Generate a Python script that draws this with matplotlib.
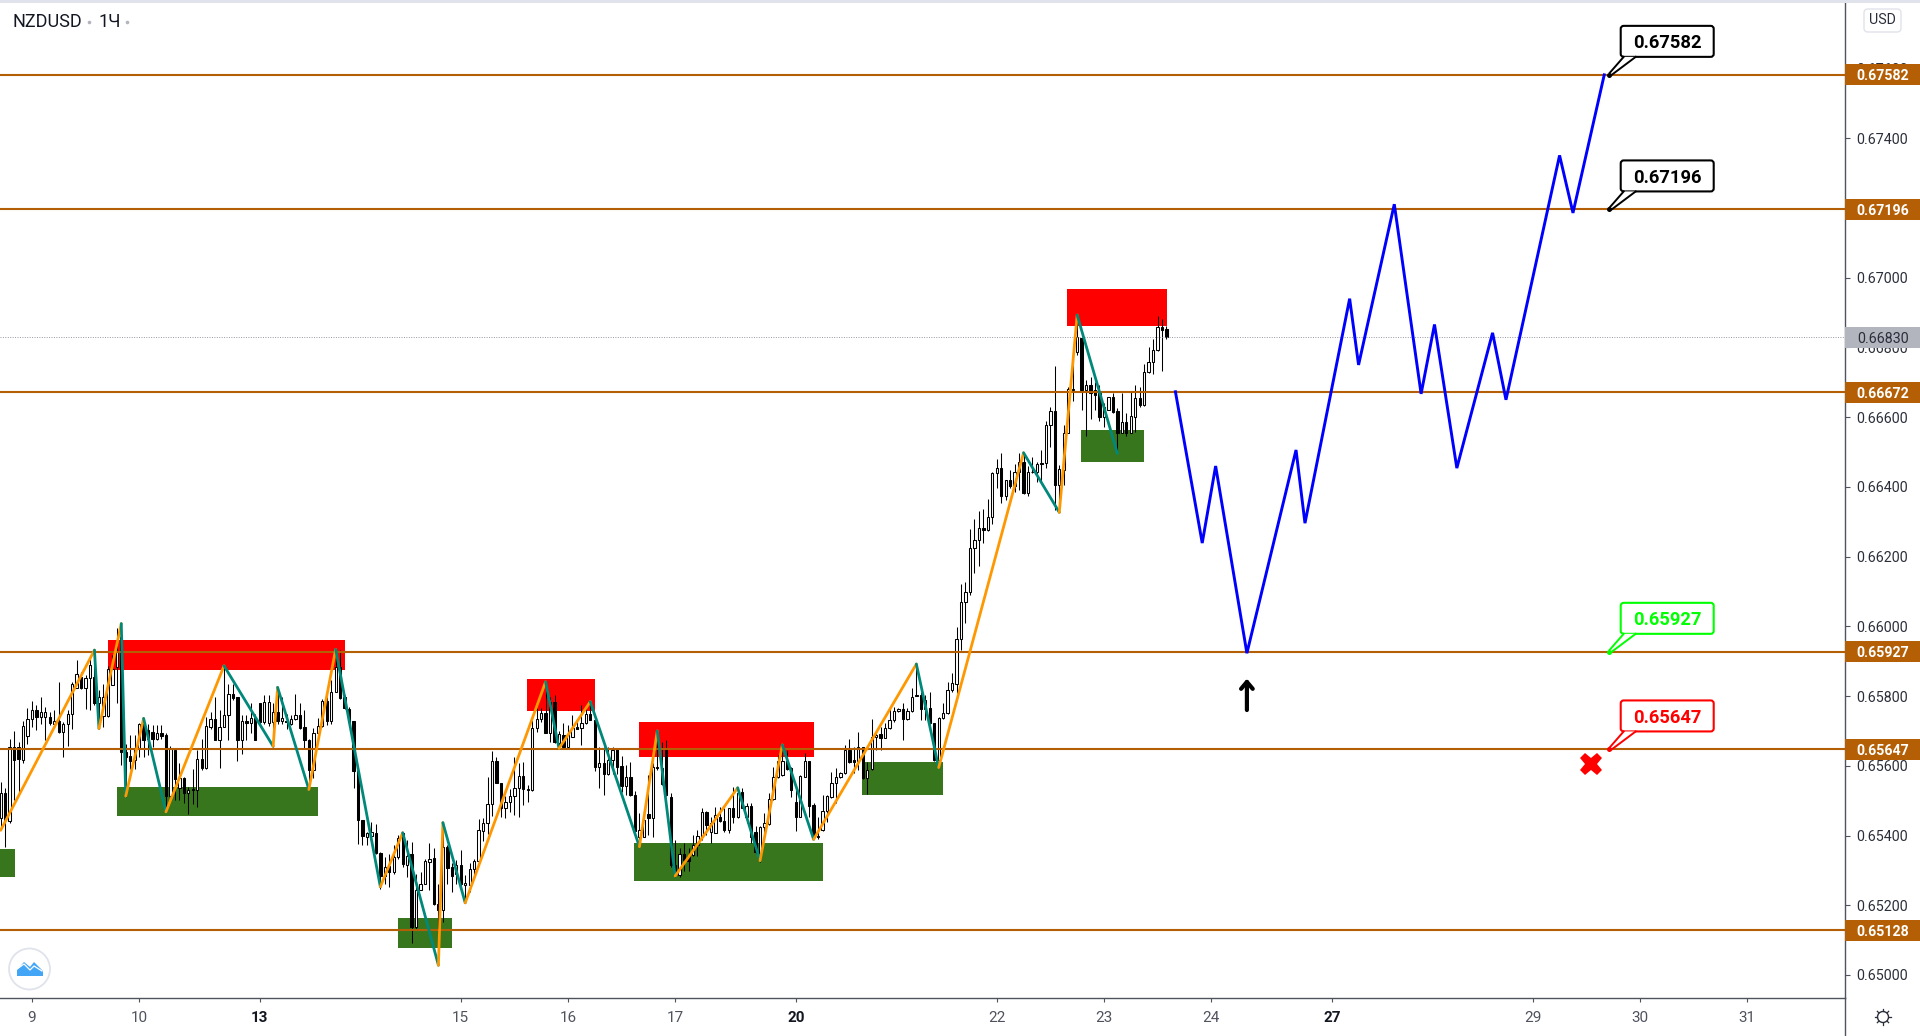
import matplotlib
matplotlib.use("Agg")
import matplotlib.pyplot as plt
from matplotlib.patches import Rectangle, FancyBboxPatch, Circle, Polygon
import numpy as np

# prices are in points (1e-5)
opens = [65449,65522,65442,65654,65654,65618,65685,65733,65761,65740,
65740,65739,65721,65729,65697,65721,65750,65822,65855,65822,
65853,65855,65779,65743,65743,65833,65884,65970,65640,65628,
65616,65652,65721,65702,65697,65678,65693,65688,65513,65645,
65535,65565,65522,65534,65532,65619,65594,65712,65733,65673,
65712,65745,65807,65798,65673,65728,65724,65736,65779,65726,
65724,65726,65755,65729,65729,65721,65733,65747,65710,65675,
65587,65695,65714,65785,65729,65812,65884,65798,65764,65728,
65586,65446,65396,65398,65406,65351,65283,65312,65294,65339,
65406,65315,65348,65138,65245,65262,65325,65337,65205,65186,
65368,65310,65291,65315,65258,65258,65305,65326,
65414,65435,65491,65615,65552,65480,65495,65512,65536,65571,
65534,65531,65708,65733,65751,65695,65782,65665,65689,65653,
65682,65711,65708,65722,65749,65732,65598,65607,65576,65617,
65648,65600,65543,65567,65516,65397,65397,65462,65449,65596,
65593,65646,65510,65316,65287,65346,65340,65344,65373,65397,
65467,65411,65408,65454,65443,65416,65478,65454,65524,65454,
65486,65411,65349,65424,65433,65504,65567,65573,65614,65593,
65495,65454,65569,65615,65488,65399,65416,65469,65510,65550,
65567,65579,65646,65617,65615,65655,65564,65590,65684,65690,
65679,65708,65732,65757,65762,65733,65757,65803,65803,65762,
65765,65722,65617,65736,65751,65818,65835,
65963,66069,66100,66226,66247,66281,66277,66315,66440,66454,
66375,66419,66403,66442,66472,66383,66444,66442,66468,66468,
66577,66618,66405,66448,66556,66678,66788,66826,66678,66692,
66678,66668,66601,66621,66657,66618,66556,66585,66556,66601,
66654,66635,66729,66757,66793,66860,66853]
closes = [65521,65444,65654,65618,65620,65714,65733,65761,65740,65753,
65755,65723,65729,65696,65721,65750,65836,65862,65822,65852,
65890,65779,65798,65798,65879,65879,65927,65640,65626,65614,
65652,65721,65673,65678,65677,65693,65686,65513,65648,65561,
65564,65522,65532,65530,65619,65594,65714,65733,65673,65712,
65745,65807,65795,65673,65729,65723,65736,65673,65726,65782,
65782,65755,65729,65738,65726,65733,65747,65709,65675,65587,
65695,65714,65785,65729,65812,65884,65795,65766,65726,65586,
65446,65398,65406,65409,65351,65283,65310,65296,65339,65394,
65317,65341,65138,65245,65262,65326,65334,65205,65186,65368,
65308,65284,65315,65262,65265,65305,65326,65415,
65435,65491,65615,65552,65480,65495,65514,65536,65571,65533,
65531,65708,65733,65751,65695,65782,65667,65690,65655,65691,
65708,65707,65724,65749,65732,65598,65607,65576,65617,65644,
65598,65543,65567,65516,65414,65416,65445,65449,65598,65593,
65548,65516,65316,65287,65346,65330,65328,65373,65399,65467,
65429,65435,65459,65443,65416,65478,65454,65523,65478,65486,
65397,65354,65424,65435,65504,65567,65614,65614,65590,65531,
65454,65571,65614,65486,65397,65395,65469,65512,65550,65567,
65579,65646,65612,65612,65655,65564,65588,65684,65689,65679,
65708,65732,65757,65762,65733,65757,65798,65800,65762,65789,
65722,65617,65736,65751,65818,65837,65963,
66069,66100,66226,66247,66281,66277,66315,66440,66454,66375,
66419,66403,66442,66472,66383,66444,66442,66467,66466,66577,
66618,66405,66450,66556,66680,66682,66831,66678,66692,66668,
66664,66601,66630,66657,66616,66556,66585,66556,66603,66654,
66635,66729,66757,66793,66858,66850,66831]
highs = [65554,65535,65678,65699,65669,65728,65767,65785,65774,65796,
65769,65755,65760,65841,65726,65760,65841,65903,65869,65860,
65908,65932,65817,65836,65885,65917,65994,66008,65664,65688,
65688,65723,65736,65719,65716,65716,65716,65693,65657,65645,
65607,65568,65540,65590,65645,65678,65740,65755,65798,65760,
65887,65836,65836,65798,65745,65745,65779,65750,65779,65803,
65803,65779,65825,65798,65750,65745,65805,65779,65760,65678,
65709,65736,65793,65798,65846,65932,65932,65803,65769,65728,
65587,65446,65411,65439,65434,65353,65339,65348,65372,65401,
65411,65387,65382,65291,65294,65334,65379,65363,65262,65438,
65372,65320,65329,65358,65286,65320,65334,65447,
65450,65569,65643,65624,65552,65512,65534,65626,65607,65612,
65545,65732,65765,65765,65841,65798,65803,65701,65722,65717,
65746,65727,65775,65775,65784,65732,65655,65655,65655,65655,
65648,65628,65602,65610,65529,65464,65459,65574,65607,65700,
65669,65674,65523,65387,65363,65378,65363,65402,65416,65480,
65471,65454,65483,65483,65478,65480,65540,65538,65536,65493,
65493,65426,65426,65464,65521,65598,65631,65655,65646,65598,
65531,65574,65636,65615,65493,65454,65516,65516,65583,65593,
65583,65660,65676,65655,65698,65655,65612,65733,65693,65712,
65722,65765,65770,65765,65779,65765,65822,65892,65813,65803,
65813,65722,65739,65779,65841,65865,65999,
66121,66128,66279,66308,66331,66336,66365,66443,66480,66496,
66420,66448,66467,66496,66498,66460,66485,66472,66506,66589,
66628,66747,66463,66577,66687,66788,66893,66836,66707,66716,
66702,66692,66640,66659,66670,66625,66668,66611,66673,66692,
66687,66754,66800,66823,66890,66881,66861]
lows = [65425,65368,65436,65501,65525,65607,65664,65712,65702,65721,
65673,65716,65719,65695,65626,65657,65707,65822,65819,65764,
65760,65774,65707,65712,65740,65831,65779,65602,65511,65592,
65592,65626,65626,65630,65654,65673,65678,65468,65511,65501,
65501,65492,65463,65490,65482,65587,65592,65707,65673,65594,
65710,65673,65790,65614,65635,65673,65693,65673,65721,65721,
65714,65654,65721,65721,65707,65718,65731,65707,65650,65530,
65564,65693,65712,65716,65721,65812,65793,65764,65721,65537,
65377,65372,65372,65391,65348,65248,65262,65253,65291,65334,
65310,65282,65092,65133,65243,65260,65243,65202,65030,65152,
65262,65238,65262,65243,65215,65238,65282,65325,
65385,65405,65457,65550,65454,65451,65467,65459,65454,65488,
65497,65529,65698,65727,65695,65669,65665,65650,65655,65653,
65682,65705,65660,65720,65732,65586,65536,65516,65574,65577,
65577,65526,65516,65512,65411,65368,65397,65402,65397,65588,
65545,65512,65311,65280,65280,65297,65297,65340,65342,65387,
65402,65378,65407,65440,65411,65408,65435,65450,65478,65435,
65378,65349,65325,65407,65430,65502,65564,65571,65588,65510,
65414,65454,65567,65454,65392,65389,65414,65440,65507,65493,
65564,65576,65609,65579,65588,65561,65519,65588,65646,65644,
65679,65705,65727,65755,65674,65732,65755,65800,65732,65732,
65720,65615,65593,65733,65749,65813,65808,
65932,66010,66090,66154,66174,66238,66274,66293,66398,66355,
66362,66396,66386,66391,66381,66375,66439,66415,66410,66453,
66515,66334,66327,66405,66554,66647,66778,66621,66546,66594,
66621,66590,66571,66621,66613,66496,66554,66546,66554,66558,
66630,66633,66726,66724,66791,66733,66823]

#zigzag pivots
zz_bars = [0,21,22,27,28,32,37,50,61,62,69,75,85,90,98,99,104,122,125,132,143,147,151,165,170,175,182,205,210,229,237,241,250]
zz_prices = [65415,65932,65707,66008,65513,65736,65468,65887,65656,65825,65532,65934,65253,65408,65028,65437,65207,
             65841,65650,65784,65368,65700,65284,65537,65328,65660,65389,65892,65595,66498,66327,66893,66496]

# forecast path (blue)
fc_bars = [263,269,272,279,290,292,302,304,312,318,321,326,334,337,349,352,359]
fc_prices = [66673,66239,66460,65923,66506,66296,66940,66750,67211,66667,66866,66454,66842,66650,67351,67186,67582]

# levels
levels = [67582,67196,66672,65927,65647,65128]
last_price = 66830

# zones: bar from, bar to, price low, price high
red_x0 = [24.0,117.8,142.9,238.7]
red_x1 = [77.1,133.1,182.1,261.1]
red_lo = [65874,65758,65624,66863]
red_hi = [65960,65849,65726,66968]
green_x0 = [-1,26.0,89.0,141.8,192.8,241.8]
green_x1 = [3.2,71.0,101.0,184.1,210.9,255.9]
green_lo = [65282,65456,65078,65271,65515,66472]
green_hi = [65361,65539,65163,65379,65611,66564]

# callouts
callout_prices = [67582,67196,65927,65647]
callout_colors = ['black','black','#00ff00','#ff0000']
callout_bar = 360

ytick_vals = [65000+200*k for k in range(14)]
xtick_bars = [7,31,58,103,127,151,178,223,247,271,298,343,367,391]
xtick_labels = ['9','10','13','15','16','17','20','22','23','24','27','29','30','31']
bold_days = ['13','20','27']

W, H = 1920, 1036
LEVEL = '#b45f06'
AXC = '#50535e'
TXT = '#2a2e39'
FONT = 'Roboto'

fig = plt.figure(figsize=(W/100, H/100), dpi=100, facecolor='white')
ax = fig.add_axes([0, (H-998)/H, 1845/W, 996/H])
ax.set_xlim(-0.15, 412.9)
ax.set_ylim(0.64934, 0.67791)

o = np.array(opens)/1e5
c = np.array(closes)/1e5
hi = np.array(highs)/1e5
lo = np.array(lows)/1e5
x = np.arange(len(o))

for a, b, p, q in zip(red_x0, red_x1, red_lo, red_hi):
    ax.add_patch(Rectangle((a, p/1e5), b-a, (q-p)/1e5, fc='#ff0000', ec='none', zorder=1))
for a, b, p, q in zip(green_x0, green_x1, green_lo, green_hi):
    ax.add_patch(Rectangle((a, p/1e5), b-a, (q-p)/1e5, fc='#38761d', ec='none', zorder=1))

ax.vlines(x, lo, hi, color='black', lw=0.75, zorder=2)
up = c >= o
ax.bar(x[up], (c-o)[up], bottom=o[up], width=0.52, fc='white', ec='black', lw=0.75, zorder=2.2)
ax.bar(x[~up], (o-c)[~up], bottom=c[~up], width=0.52, fc='black', ec='black', lw=0.75, zorder=2.2)

ax.axhline(last_price/1e5, color='#9598a1', lw=0.7, ls=(0, (1, 1.5)), zorder=2.5)
for lv in levels:
    ax.axhline(lv/1e5, color=LEVEL, lw=1.5, zorder=3)

# zigzag
for k in range(len(zz_bars)-1):
    rising = zz_prices[k+1] > zz_prices[k]
    ax.plot(zz_bars[k:k+2], np.array(zz_prices[k:k+2])/1e5, color='#ff9800' if rising else '#00897b',
            lw=2.0, zorder=4, solid_capstyle='round')

ax.plot(fc_bars, np.array(fc_prices)/1e5, color='#0000ff', lw=2.1, zorder=4, solid_joinstyle='miter')

# arrow and cross
ax.annotate('', xy=(279, 0.65850), xytext=(279, 0.65760),
            arrowprops=dict(arrowstyle='->,head_width=0.42,head_length=0.5', color='black', lw=3.0, shrinkA=0, shrinkB=0), zorder=5)
ax.plot([356], [0.65605], marker='X', color='#ff0000', ms=16, mew=0, zorder=5)

# axes
for s in ['top', 'left']:
    ax.spines[s].set_visible(False)
for s in ['right', 'bottom']:
    ax.spines[s].set_color(AXC)
    ax.spines[s].set_linewidth(1.0)
ax.yaxis.tick_right()
ax.set_yticks(np.array(ytick_vals)/1e5)
ax.set_yticklabels(['%.5f' % (v/1e5) for v in ytick_vals], fontsize=10.3, color=TXT, family=FONT)
ax.tick_params(axis='y', length=3.6, width=0.8, color=AXC, pad=4.3)
ax.set_xticks(xtick_bars)
ax.set_xticklabels(xtick_labels, fontsize=11, color='#50535e', family=FONT)
ax.tick_params(axis='x', length=3, width=0.8, color=AXC, pad=6)
for lab in ax.get_xticklabels():
    if lab.get_text() in bold_days:
        lab.set_color('#131722')
        lab.set_fontweight('bold')

# price labels on the scale
ytr = ax.get_yaxis_transform()
box_w = 75/1845
box_h = 21*2.869e-5
for lv in levels:
    ax.add_patch(Rectangle((1, lv/1e5-box_h/2), box_w, box_h, fc=LEVEL, ec='none', transform=ytr, clip_on=False, zorder=6))
    ax.text(1+38/1845, lv/1e5, '%.5f' % (lv/1e5), transform=ytr, color='white', fontsize=10.2, fontweight='bold', family=FONT,
            ha='center', va='center_baseline', zorder=7, clip_on=False)
ax.add_patch(Rectangle((1, last_price/1e5-box_h/2), box_w, box_h, fc='#b2b5be', ec='none', transform=ytr, clip_on=False, zorder=6))
ax.text(1+38/1845, last_price/1e5, '%.5f' % (last_price/1e5), transform=ytr, color=TXT, fontsize=10.3, family=FONT,
        ha='center', va='center_baseline', zorder=7, clip_on=False)

# overlay in pixel coords for header, callouts, logo, gear
fig.canvas.draw()
ov = fig.add_axes([0, 0, 1, 1], facecolor='none')
ov.set_xlim(0, W)
ov.set_ylim(H, 0)
ov.axis('off')

ov.add_patch(Rectangle((0, 0), W, 2.5, fc='#e0e3eb', ec='none'))
ov.text(12, 22, 'NZDUSD', fontsize=13, family=FONT, color='#131722', va='center')
ov.plot([89], [22], marker='o', ms=2.6, color='#b2b5be', mew=0)
ov.text(98, 22, '1Ч', fontsize=13, family=FONT, color='#131722', va='center')
ov.plot([127], [22], marker='o', ms=2.6, color='#b2b5be', mew=0)

ov.add_patch(FancyBboxPatch((1866, 11), 33, 19, boxstyle='round,pad=2,rounding_size=4', fc='white', ec='#e0e3eb', lw=1))
ov.text(1882.5, 20.5, 'USD', fontsize=10.3, family=FONT, color=TXT, ha='center', va='center')

for price, col in zip(callout_prices, callout_colors):
    px, py = ax.transData.transform((callout_bar, price/1e5))
    py = H - py
    bx0, bx1 = px+12, px+105
    by0, by1 = py-49, py-18
    ov.add_patch(FancyBboxPatch((bx0+3, by0+3), bx1-bx0-6, by1-by0-6, boxstyle='round,pad=3,rounding_size=3',
                                fc='white', ec=col, lw=1.5, zorder=5))
    ov.add_patch(Polygon([(px+15, by1), (px+27, by1), (px+3, py)], fc='white', ec='none', zorder=6))
    ov.plot([px+15, px+1], [by1, py-2], color=col, lw=1.4, zorder=7)
    ov.plot([px+27, px+3], [by1, py], color=col, lw=1.4, zorder=7)
    ov.plot([px], [py], marker='o', ms=3.6, color=col, mew=0, zorder=7)
    ov.text((bx0+bx1)/2, (by0+by1)/2, '%.5f' % (price/1e5), color=col, fontsize=13.2, family=FONT, ha='center',
            va='center_baseline', zorder=8, fontweight='bold')

# logo badge
ov.add_patch(Circle((29.5, 969), 20.5, fc='white', ec='#e0e3eb', lw=1.3, zorder=5))
ov.add_patch(Polygon([(17, 976), (17, 970), (24, 962), (30, 967), (34, 962), (43, 971), (43, 976)], fc='#42a5f5', ec='none', zorder=6))
ov.plot([17, 24, 30, 34, 42], [969, 964, 970, 966, 971], color='white', lw=0.9, zorder=7)

# settings gear
ov.add_patch(Circle((1883, 1017), 5.5, fc='white', ec=TXT, lw=1.0))
for ang in np.arange(0, 360, 45):
    ca, sa = np.cos(np.radians(ang)), np.sin(np.radians(ang))
    ov.plot([1883+6*ca, 1883+8*ca], [1017+6*sa, 1017+8*sa], color=TXT, lw=0.9)
ov.plot([1845, 1845], [998, 1036], color=AXC, lw=1.0)

fig.savefig('out.png', dpi=100, facecolor='white')
